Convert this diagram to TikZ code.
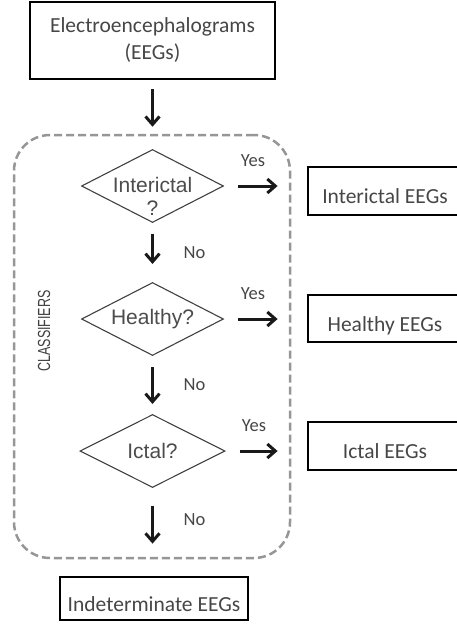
\documentclass[tikz,border=0pt]{standalone}
\usepackage{fontspec}
\setmainfont{Carlito}
\newfontfamily\arialfont{Liberation Sans}
\usetikzlibrary{shapes.geometric,arrows.meta}
\definecolor{txtgray}{RGB}{70,70,70}
\definecolor{dashgray}{RGB}{150,150,150}

\begin{document}
\begin{tikzpicture}[x=1pt, y=-1pt, >={Straight Barb[length=8pt,width=14pt,line width=3pt]},
    outbox/.style={draw, line width=2.8pt, inner sep=0pt, text=txtgray,
      font=\fontsize{21.5}{27}\selectfont},
    resbox/.style={outbox, text height=30pt, text depth=5pt},
    decision/.style={diamond, draw=black!75, line width=1.1pt, inner sep=0pt,
      minimum width=142pt, minimum height=73pt},
    qtext/.style={font=\arialfont\fontsize{21}{23}\selectfont, text=black!70, align=center},
    flow/.style={->, line width=3pt, black!90},
    yesflow/.style={flow, shorten <=14pt, shorten >=29pt},
    yeslbl/.style={font=\fontsize{18.5}{20}\selectfont, text=txtgray, pos=0.35, yshift=25pt},
    nolbl/.style={font=\fontsize{18.5}{20}\selectfont, text=txtgray, xshift=42pt}]
    \useasboundingbox (0,0) rectangle (456,626);

    % input and classifier frame
    \node[outbox, align=center, minimum width=245pt, minimum height=77pt] (eeg) at (152.5,40.5)
      {Electroencephalograms\\(EEGs)};
    \node[draw=dashgray, dash pattern=on 8pt off 4pt, line width=2.5pt, rounded corners=36pt,
      minimum width=276pt, minimum height=423pt, inner sep=0pt] (cls) at (152,346.5) {};
    \node[rotate=90, yscale=1.4, font=\arialfont\fontsize{12.5}{14}\selectfont, text=black!75]
      (clslbl) at (44,331) {CLASSIFIERS};

    % decisions
    \node[decision] (q1) at (152.5,186) {};
    \node[qtext] (q1t) at ([yshift=-10.5pt]q1.center) {Interictal\\?};
    \node[decision] (q2) at (152.5,319) {};
    \node[qtext] (q2t) at (q2.center) {Healthy?};
    \node[decision, minimum width=145pt] (q3) at (152.5,451) {};
    \node[qtext] (q3t) at (q3.center) {Ictal?};

    % results
    \node[resbox, minimum width=154pt, minimum height=48pt] (ie) at (385,191) {Interictal EEGs};
    \node[resbox, minimum width=154pt, minimum height=47pt] (he) at (385,318.5) {Healthy EEGs};
    \node[resbox, minimum width=154pt, minimum height=48pt] (ic) at (385,446) {Ictal EEGs};
    \node[resbox, minimum width=188pt, minimum height=43pt] (ind) at (154,598.5) {Indeterminate EEGs};

    % connectors
    \draw[flow, shorten <=9pt, shorten >=7pt] (eeg) -- (eeg |- cls.north);
    \draw[yesflow] (q1) -- (q1 -| ie.west) node[yeslbl] {Yes};
    \draw[yesflow] (q2) -- (q2 -| he.west) node[yeslbl] {Yes};
    \draw[yesflow] (q3) -- (q3 -| ic.west) node[yeslbl] {Yes};
    \draw[flow, shorten <=11pt, shorten >=18pt] (q1) -- (q2) node[nolbl, midway] {No};
    \draw[flow, shorten <=11pt, shorten >=10pt] (q2) -- (q3) node[nolbl, midway] {No};
    \draw[flow, shorten <=18pt, shorten >=32pt] (q3) -- (q3 |- ind.north) node[nolbl, pos=0.36] {No};
  \end{tikzpicture}
\end{document}
